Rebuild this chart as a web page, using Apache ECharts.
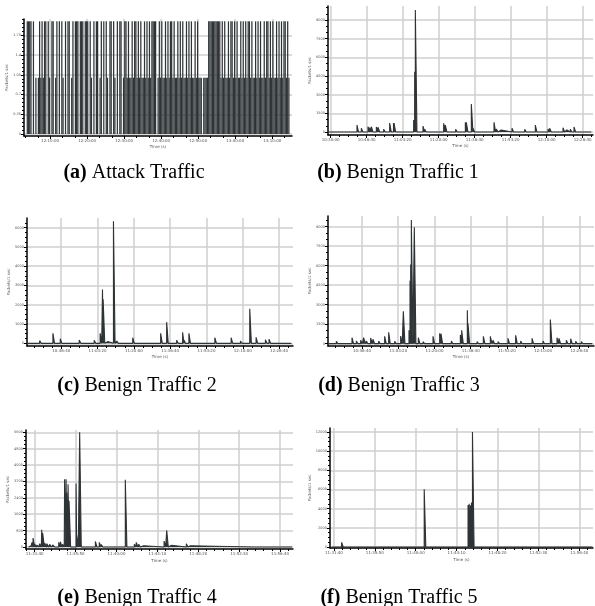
<!DOCTYPE html>
<html><head><meta charset="utf-8">
<script src="https://cdn.jsdelivr.net/npm/echarts@6/dist/echarts.min.js"></script>
<style>html,body{margin:0;padding:0;background:#fff}#c{width:595px;height:606px}</style>
</head><body><div id="c"></div>
<script>
// ---------- DATA ----------
// (a) Attack traffic, packets / 1 sec, one sample every 20 s starting 12:03:50
const attackStart = 230;   // seconds after 12:00:00
const attackStep = 20;
const attackValues = [
  2,2,2,2, 0,2,0,1,0, 1,2,1,2,1,2,
  2,0,2,1,0,2,2,0,1,2,0,2,0,2,1,0,2,0,2,2,0,1,2,0,2,
  2,2,0,2,2,2,0,2,2,2,
  0,2,1,0,2,0,2,2,0,1,2,0,2,0,2,1,0,2,2,0,2,1,0,2,0,2,2,0,1,2,
  2,1,2,1,1,2,1,2,2,1,2,1,2,1,1,2,1,2,1,2,1,
  2,2,2,2, 0,
  1,2,1,2,1,1,2,1,2,1,2,2,1,2,1,1,2,1,2,1,2,1,1,2,1,2,1,2,1,1,2,1,2,1,
  1,1,0,1,1,1,1,
  2,2,2,2,2,2,2,2,2,2,
  1,2,1,2,1,1,2,1,2,2,1,2,1,2,1,1,2,1,2,1,2,1,2,2,1,2,1,1,2,1,
  2,1,2,1,1,2,1,2,2,1,2,1,2,1,1,2,1,2,1,2,1,2,2,1,2,1
];
// Benign traffic: spike times (s after the panel's clock origin) and packets / 1 sec
const benign1Range = [-46, 7240];
const benign1Times = [324,731,852,1037,1085,1130,1269,1315,1472,1639,1745,1760,2305,2333,2352,2565,2611,2889,3139,3185,3472,3741,3768,3907,3954,4537,4602,4694,5037,5296,5389,5685,6037,6083,6222,6454,6518,6657,6759,6805,6935,7028];
const benign1Values = [160,560,300,430,370,430,400,380,215,720,720,720,960,4850,9800,480,215,160,700,560,215,780,780,2250,300,780,240,160,300,160,215,560,240,300,160,350,160,215,400,160,160,160];

const benign2Range = [75, 7337];
const benign2Times = [405,771,973,1201,1357,1495,1907,2071,2136,2154,2236,2438,2529,2868,2969,3152,3326,3665,3738,3903,4178,4343,4379,4516,4681,5231,5679,5936,6192,6366,6623,6723,7108];
const benign2Values = [140,520,240,90,90,170,155,520,2790,2280,90,6330,120,90,290,90,70,90,520,1100,155,570,170,520,70,290,290,120,1790,310,190,220,90];

const benign3Range = [89, 7357];
const benign3Times = [292,411,724,844,963,1046,1120,1239,1304,1460,1626,1736,1902,2067,2141,2297,2325,2343,2362,2444,2555,2684,2960,3144,3180,3466,3714,3751,3907,3925,4174,4349,4542,4615,4753,5029,5241,5379,5692,5995,6198,6382,6437,6639,6759,6897,7053];
const benign3Values = [180,100,460,205,257,460,205,440,335,205,565,875,180,590,2490,1030,4830,6090,9510,8950,460,155,565,800,770,205,670,1030,2570,1540,155,565,565,257,155,410,640,205,410,205,1850,460,410,257,385,180,155];

const benign4Range = [-37, 1573];
const benign4Times = [-31,-16,-10,0,14,31,43,49,61,75,92,112,147,157,171,183,192,196,204,210,253,257,275,310,371,395,407,442,554,609,621,636,656,791,807,825,927,941,1339,1542];
const benign4Values = [65,230,440,150,100,160,845,680,195,160,130,100,230,260,130,3310,3310,2660,3070,2255,3100,585,5600,65,275,230,115,50,3280,130,230,130,65,290,810,80,160,65,65,30];

const benign5Range = [-14, 1580];
const benign5Times = [47,552,765,820,827,835,841,847,939,1045];
const benign5Values = [485,6020,100,4390,4500,4360,4630,12000,140,100];

// Tick labels
const attackTimeTicks = [600,1200,1800,2400,3000,3600,4200];          // 12:10:00 ... 13:10:00
const attackRateTicks = [0,0.35,0.7,1.05,1.4,1.75];
const benign1TimeTicks = [0,1000,2000,3000,4000,5000,6000,7000];      // 10:30:00 ... 12:26:40
const benign23TimeTicks = [1000,2000,3000,4000,5000,6000,7000];       // 10:46:40 ... 12:26:40
const benign45TimeTicks = [0,250,500,750,1000,1250,1500];             // 11:31:40 ... 11:56:40
const benign1RateTicks = [0,1500,3000,4500,6000,7500,9000];
const benign2RateTicks = [0,1000,2000,3000,4000,5000,6000];
const benign3RateTicks = [0,1500,3000,4500,6000,7500,9000];
const benign4RateTicks = [0,800,1600,2400,3200,4000,4800,5600];
const benign5RateTicks = [0,2000,4000,6000,8000,10000,12000];

const captionTags = ['(a)','(b)','(c)','(d)','(e)','(f)'];
const captionTexts = ['Attack Traffic','Benign Traffic 1','Benign Traffic 2','Benign Traffic 3','Benign Traffic 4','Benign Traffic 5'];
const yAxisTitle = 'Packets/1 sec';
const xAxisTitle = 'Time (s)';

// ---------- LAYOUT / STYLE ----------
const DARK = '#2e3335';
const pad = n => (n < 10 ? '0' : '') + n;
const clock = base => v => { const s = Math.round(base + v); return Math.floor(s/3600) + ':' + pad(Math.floor(s%3600/60)) + ':' + pad(s%60); };

const panels = [
  {grid:{left:24,top:19,width:268,height:117}, xr:[177,4520], xt:attackTimeTicks, base:43200, xm:200, yr:[-0.036,2.042], yt:attackRateTicks, ym:0.07, yng:14, xng:9},
  {grid:{left:328,top:6,width:265,height:129}, xr:[-74,7287], xt:benign1TimeTicks, base:37800, xm:250, yr:[-241,10130], yt:benign1RateTicks, ym:500, yng:15, xng:9, d:[benign1Times,benign1Values,benign1Range]},
  {grid:{left:27,top:218,width:266,height:128}, xr:[57,7383], xt:benign23TimeTicks, base:37800, xm:250, yr:[-138,6500], yt:benign2RateTicks, ym:250, yng:15, xng:9, d:[benign2Times,benign2Values,benign2Range]},
  {grid:{left:328,top:216,width:266,height:130}, xr:[62,7403], xt:benign23TimeTicks, base:37800, xm:250, yr:[-180,9820], yt:benign3RateTicks, ym:500, yng:15, xng:9, d:[benign3Times,benign3Values,benign3Range]},
  {grid:{left:26,top:430,width:267,height:119}, xr:[-53,1579], xt:benign45TimeTicks, base:41500, xm:50, yr:[-97,5713], yt:benign4RateTicks, ym:200, yng:15, xng:10, d:[benign4Times,benign4Values,benign4Range]},
  {grid:{left:330,top:428,width:263,height:120}, xr:[-24,1584], xt:benign45TimeTicks, base:41500, xm:50, yr:[-104,12415], yt:benign5RateTicks, ym:500, yng:17, xng:10, d:[benign5Times,benign5Values,benign5Range]}
];
const captionPos = [[134,173],[398,173],[137,386],[399,386],[137,598],[399,598]];

function minors(min, max, majors, step) {
  const out = [];
  for (let v = majors[0] - step; v > min; v -= step) out.push(+v.toFixed(6));
  for (let v = majors[0] + step; v < max; v += step) {
    if (!majors.some(m => Math.abs(m - v) < step * 1e-3)) out.push(+v.toFixed(6));
  }
  return out;
}
function impulses(times, vals, range, w) {
  const pts = [[range[0], 0]];
  for (let k = 0; k < times.length; k++) {
    const t = times[k], v = vals[k];
    const next = k + 1 < times.length ? times[k + 1] : Infinity;
    const t2 = Math.min(t + w, next);
    pts.push([t, 0], [t, v], [t2, v], [t2, 0]);
  }
  pts.push([range[1], 0]);
  return pts;
}

const grids = [], xAxes = [], yAxes = [], series = [];
const tickLine = {color:'#000', width:1};
panels.forEach((p, i) => {
  grids.push(Object.assign({outerBoundsMode:'none', containLabel:false}, p.grid));
  xAxes.push({
    type:'value', gridIndex:i, min:p.xr[0], max:p.xr[1], position:'bottom',
    axisLine:{show:true, onZero:false, lineStyle:{color:'#000', width:1.5}},
    axisTick:{show:true, customValues:p.xt, length:3, lineStyle:tickLine},
    axisLabel:{show:true, customValues:p.xt, formatter:clock(p.base), fontSize:4, color:'#555', margin:2.5, fontFamily:'DejaVu Sans'},
    splitLine:{show:true, lineStyle:{color:'#cfcfcf', width:1.5}},
    name:xAxisTitle, nameLocation:'middle', nameGap:p.xng, nameTextStyle:{fontSize:4, color:'#555', fontFamily:'DejaVu Sans'}
  });
  xAxes.push({
    type:'value', gridIndex:i, min:p.xr[0], max:p.xr[1], position:'bottom',
    axisLine:{show:false, onZero:false},
    axisTick:{show:true, customValues:minors(p.xr[0], p.xr[1], p.xt, p.xm), length:2, lineStyle:tickLine},
    axisLabel:{show:false}, splitLine:{show:false}
  });
  yAxes.push({
    type:'value', gridIndex:i, min:p.yr[0], max:p.yr[1], position:'left',
    axisLine:{show:true, onZero:false, lineStyle:{color:'#000', width:1.5}},
    axisTick:{show:true, customValues:p.yt, length:3, lineStyle:tickLine},
    axisLabel:{show:true, customValues:p.yt, formatter:v => String(v), fontSize:3.5, color:'#555', margin:3, fontFamily:'DejaVu Sans'},
    splitLine:{show:true, lineStyle:{color:'#cfcfcf', width:1.5}},
    name:yAxisTitle, nameLocation:'middle', nameGap:p.yng, nameTextStyle:{fontSize:4, color:'#555', fontFamily:'DejaVu Sans'}
  });
  yAxes.push({
    type:'value', gridIndex:i, min:p.yr[0], max:p.yr[1], position:'left',
    axisLine:{show:false, onZero:false},
    axisTick:{show:true, customValues:minors(p.yr[0], p.yr[1], p.yt, p.ym), length:2, lineStyle:tickLine},
    axisLabel:{show:false}, splitLine:{show:false}
  });
  if (i === 0) {
    series.push({
      type:'bar', xAxisIndex:0, yAxisIndex:0, barWidth:'100%', large:false,
      itemStyle:{color:DARK}, silent:true,
      data: attackValues.map((v, k) => [attackStart + k * attackStep, v])
    });
  } else {
    const w = 1.6 * (p.xr[1] - p.xr[0]) / p.grid.width;
    series.push({
      type:'line', xAxisIndex:2*i, yAxisIndex:2*i, showSymbol:false, symbol:'none', silent:true,
      lineStyle:{color:DARK, width:1.1}, areaStyle:{color:DARK, opacity:1},
      data: impulses(p.d[0], p.d[1], p.d[2], w)
    });
  }
});

const graphic = captionTags.map((tag, i) => ({
  type:'text', x:captionPos[i][0], y:captionPos[i][1], silent:true,
  style:{
    text:'{b|' + tag + '} ' + captionTexts[i],
    fontSize:20, fontFamily:'Liberation Serif', fill:'#000',
    textAlign:'center', textVerticalAlign:'middle',
    rich:{b:{fontWeight:'bold', fontSize:20, fontFamily:'Liberation Serif', fill:'#000'}}
  }
}));

const chart = echarts.init(document.getElementById('c'), null, {renderer:'canvas'});
chart.setOption({
  animation:false, backgroundColor:'#fff',
  grid:grids, xAxis:xAxes, yAxis:yAxes, series:series, graphic:graphic
});
</script></body></html>
